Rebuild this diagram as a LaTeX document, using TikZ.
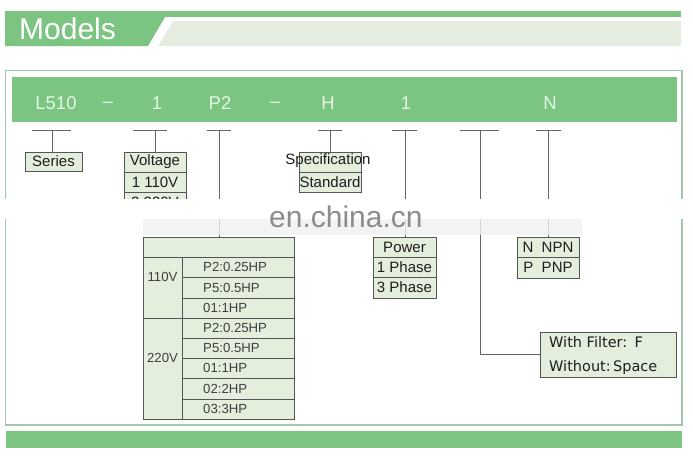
\documentclass[tikz,border=0pt]{standalone}
\usepackage{fontspec}
\setmainfont{Liberation Sans}
\newfontfamily\codefont{Liberation Sans}
\newfontfamily\filtfont{DejaVu Sans}
\definecolor{barGreen}{RGB}{124,196,130}
\definecolor{headLight}{RGB}{229,237,224}
\definecolor{boxFill}{RGB}{227,238,220}
\definecolor{boxLine}{RGB}{85,85,85}
\definecolor{lineGray}{RGB}{100,100,100}
\definecolor{frameCol}{RGB}{160,200,170}
\definecolor{codeText}{RGB}{228,246,228}
\definecolor{textDark}{RGB}{30,30,30}
\definecolor{wmGray}{RGB}{140,140,140}
\begin{document}
\begin{tikzpicture}[x=1pt,y=-1pt,
  cell/.style={draw=boxLine, fill=boxFill, line width=0.9pt, inner sep=0pt,
    font=\fontsize{15}{17}\selectfont, text=textDark},
  tcell/.style={draw=boxLine, fill=boxFill, line width=0.9pt, inner sep=0pt,
    minimum width=112pt},
  ttext/.style={anchor=west, inner sep=0pt, font=\fontsize{13.2}{15}\selectfont, text=textDark!85},
  tline/.style={draw=lineGray, line width=1pt},
  codetxt/.style={font=\codefont\fontsize{18.5}{20}\selectfont, text=codeText, inner sep=0pt}]
\useasboundingbox (0,0) rectangle (693,455);
\fill[white] (0,0) rectangle (693,455);

% header
\fill[barGreen] (5,11) rectangle (681,17);
\fill[barGreen] (5,17) -- (165,17) -- (148,46) -- (5,46) -- cycle;
\fill[headLight] (173,21) -- (681,21) -- (681,46) -- (158,46) -- cycle;
\node[anchor=west, inner sep=0pt, text=white, font=\codefont\fontsize{30}{32}\selectfont] (title) at (19,29) {Models};

% frame and bars
\draw[frameCol, line width=1.2pt] (5.5,70.5) rectangle (682,425);
\fill[barGreen] (12,77) rectangle (677,122);
\fill[barGreen] (6,431) rectangle (682,448);

% code letters
\node[codetxt] (cL) at (56,103.5) {L510};
\node[codetxt] (cD1) at (108,104.5) {\textendash};
\node[codetxt] (c1) at (157,103.5) {1};
\node[codetxt] (cP) at (220,103.5) {P2};
\node[codetxt] (cD2) at (275,104.5) {\textendash};
\node[codetxt] (cH) at (328,103.5) {H};
\node[codetxt] (c1b) at (406,103.5) {1};
\node[codetxt] (cN) at (550,103.5) {N};

% Series
\node[cell, minimum width=57pt, minimum height=19pt] (series) at (53.5,161.5) {Series};
\coordinate (sTl) at (32,130); \coordinate (sTr) at (71,130); \coordinate (sTc) at (52,130);
\draw[tline] (sTl) -- (sTr);
\draw[tline] (sTc) -- (sTc |- series.north);

% Voltage
\node[cell, minimum width=62pt, minimum height=20pt] (vhead) at (155,162) {Voltage};
\node[cell, minimum width=62pt, minimum height=20pt] (v1) at (155,182) {1 110V};
\node[cell, minimum width=62pt, minimum height=20pt] (v2) at (155,202) {2 220V};
\coordinate (vTl) at (133,130); \coordinate (vTr) at (167,130); \coordinate (vTc) at (155,130);
\draw[tline] (vTl) -- (vTr);
\draw[tline] (vTc) -- (vhead.north);

% Specification
\node[cell, minimum width=62pt, minimum height=20pt] (shead) at (330,162) {};
\node[inner sep=0pt, font=\fontsize{15}{17}\selectfont, text=textDark] (stxt) at (328,161) {Specification};
\node[cell, minimum width=62pt, minimum height=20pt] (s1) at (330,182) {Standard};
\coordinate (spTl) at (318,130); \coordinate (spTr) at (342,130); \coordinate (spTc) at (330,130);
\draw[tline] (spTl) -- (spTr);
\draw[tline] (spTc) -- (shead.north);

% Table (P2)
\node[cell, minimum width=151pt, minimum height=20pt] (thead) at (218.5,247) {};
\node[cell, minimum width=39pt, minimum height=61pt] (g110) at (162.5,287.5) {};
\node[cell, minimum width=39pt, minimum height=101pt] (g220) at (162.5,368.5) {};
\node[inner sep=0pt, font=\fontsize{13.2}{15}\selectfont, text=textDark!85] (l110) at (162.5,277) {110V};
\node[inner sep=0pt, font=\fontsize{13.2}{15}\selectfont, text=textDark!85] (l220) at (162.5,358) {220V};
\node[tcell, minimum height=20pt] (r1) at (238,267) {};
\node[tcell, minimum height=21pt] (r2) at (238,287.5) {};
\node[tcell, minimum height=20pt] (r3) at (238,308) {};
\node[tcell, minimum height=20pt] (r4) at (238,328) {};
\node[tcell, minimum height=20pt] (r5) at (238,348) {};
\node[tcell, minimum height=20pt] (r6) at (238,368) {};
\node[tcell, minimum height=21pt] (r7) at (238,388.5) {};
\node[tcell, minimum height=20pt] (r8) at (238,409) {};
\node[ttext] (x1) at (203,267) {P2:0.25HP};
\node[ttext] (x2) at (203,287.5) {P5:0.5HP};
\node[ttext] (x3) at (203,308) {01:1HP};
\node[ttext] (x4) at (203,328) {P2:0.25HP};
\node[ttext] (x5) at (203,348) {P5:0.5HP};
\node[ttext] (x6) at (203,368) {01:1HP};
\node[ttext] (x7) at (203,388.5) {02:2HP};
\node[ttext] (x8) at (203,409) {03:3HP};
\coordinate (pTl) at (207,130); \coordinate (pTr) at (231,130); \coordinate (pTc) at (219,130);
\draw[tline] (pTl) -- (pTr);
\draw[tline] (pTc) -- (pTc |- thead.north);

% Power
\node[cell, minimum width=63pt, minimum height=20pt] (phead) at (404.5,247) {Power};
\node[cell, minimum width=63pt, minimum height=20pt] (p1) at (404.5,267) {1 Phase};
\node[cell, minimum width=63pt, minimum height=21pt] (p3) at (404.5,287.5) {3 Phase};
\coordinate (poTl) at (392,130); \coordinate (poTr) at (417,130); \coordinate (poTc) at (405,130);
\draw[tline] (poTl) -- (poTr);
\draw[tline] (poTc) -- (poTc |- phead.north);

% Filter
\node[cell, minimum width=136pt, minimum height=45pt] (filt) at (608,354.5) {};
\node[anchor=west, inner sep=0pt, font=\filtfont\fontsize{14.5}{16}\selectfont, text=textDark] (f1) at (549,342) {With Filter:\enspace F};
\node[anchor=west, inner sep=0pt, font=\filtfont\fontsize{14.5}{16}\selectfont, text=textDark] (f2) at (549,367) {Without:\,Space};
\coordinate (fTl) at (460,130); \coordinate (fTr) at (499,130); \coordinate (fTc) at (480,130);
\draw[tline] (fTl) -- (fTr);
\draw[tline] (fTc) |- (filt.west);

% NPN
\node[cell, minimum width=62pt, minimum height=20pt] (n1) at (548,247) {N\ \ NPN};
\node[cell, minimum width=62pt, minimum height=21pt] (n2) at (548,267.5) {P\ \ PNP};
\coordinate (nTl) at (536,130); \coordinate (nTr) at (561,130); \coordinate (nTc) at (548,130);
\draw[tline] (nTl) -- (nTr);
\draw[tline] (nTc) -- (n1.north);

% watermark band
\fill[white] (0,199) rectangle (693,219);
\fill[white!88!gray, opacity=0.8] (143,219) rectangle (582,235);
\node[anchor=base west, inner sep=0pt, text=wmGray, font=\fontsize{30}{32}\selectfont] (wm) at (269,227) {en.china.cn};
\end{tikzpicture}
\end{document}
